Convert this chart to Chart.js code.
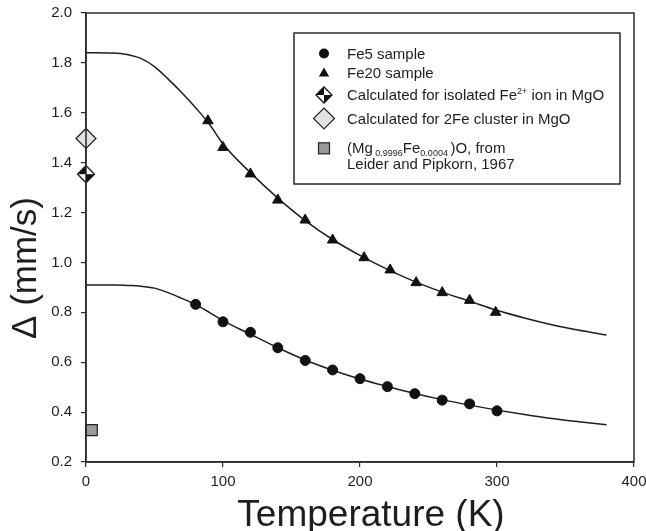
<!DOCTYPE html>
<html>
<head>
<meta charset="utf-8">
<script src="https://cdn.jsdelivr.net/npm/chart.js@4.4.1/dist/chart.umd.min.js"></script>
<style>
  body { margin: 0; background: #fff; }
  #wrap { width: 646px; height: 531px; }
</style>
</head>
<body>
<div id="wrap"><canvas id="chart" width="646" height="531"></canvas></div>
<script>
// quadrupole splitting vs temperature
const xTicks = [0, 100, 200, 300, 400];
const yTicks = [0.2, 0.4, 0.6, 0.8, 1.0, 1.2, 1.4, 1.6, 1.8, 2.0];

// fitted curves
const fitT = [0, 20, 30, 40, 50, 60, 70, 80, 90, 100, 120, 140, 160, 180, 200, 220, 240, 260, 280, 300, 320, 340, 360, 380];
const fe5Fit = [0.910, 0.910, 0.908, 0.905, 0.897, 0.879, 0.856, 0.831, 0.800, 0.767, 0.712, 0.658, 0.609, 0.568, 0.533, 0.503, 0.475, 0.450, 0.428, 0.408, 0.390, 0.374, 0.361, 0.349];
const fe20Fit = [1.841, 1.840, 1.834, 1.818, 1.785, 1.735, 1.680, 1.620, 1.555, 1.475, 1.360, 1.258, 1.168, 1.092, 1.028, 0.972, 0.923, 0.881, 0.845, 0.808, 0.777, 0.750, 0.728, 0.709];

// measured points
const fe5T = [80, 100, 120, 140, 160, 180, 200, 220, 240, 260, 280, 300];
const fe5D = [0.832, 0.762, 0.720, 0.658, 0.607, 0.569, 0.534, 0.502, 0.474, 0.448, 0.433, 0.405];
const fe20T = [89, 100, 120, 140, 160, 180, 203, 222, 241, 260, 280, 299];
const fe20D = [1.568, 1.461, 1.355, 1.250, 1.170, 1.090, 1.019, 0.970, 0.919, 0.879, 0.848, 0.800];

// single reference values
const isolatedT = [0];
const isolatedD = [1.354];
const clusterT = [0];
const clusterD = [1.497];
const leiderT = [4.2];
const leiderD = [0.328];

const FONT = '"Liberation Sans", Arial, sans-serif';
const INK = '#1e1e1e';

function pts(xs, ys) {
  return xs.map((x, i) => ({ x: x, y: ys[i] }));
}

// diamond split into quarters, top-left and bottom-right filled
function quarterDiamond(r) {
  const c = document.createElement('canvas');
  const s = Math.ceil(r * 2 + 3);
  c.width = s; c.height = s;
  const g = c.getContext('2d');
  paintQuarterDiamond(g, s / 2, s / 2, r);
  return c;
}

function paintQuarterDiamond(g, x, y, r) {
  g.fillStyle = '#fff';
  g.beginPath();
  g.moveTo(x, y - r); g.lineTo(x + r, y); g.lineTo(x, y + r); g.lineTo(x - r, y);
  g.closePath();
  g.fill();
  g.fillStyle = '#111';
  g.beginPath();
  g.moveTo(x, y); g.lineTo(x - r, y); g.lineTo(x, y - r); g.closePath();
  g.fill();
  g.beginPath();
  g.moveTo(x, y); g.lineTo(x + r, y); g.lineTo(x, y + r); g.closePath();
  g.fill();
  g.strokeStyle = '#111';
  g.lineWidth = 1.3;
  g.beginPath();
  g.moveTo(x, y - r); g.lineTo(x + r, y); g.lineTo(x, y + r); g.lineTo(x - r, y);
  g.closePath();
  g.stroke();
}

const isoStyle = quarterDiamond(8.5);

// frame, axis titles and the legend box
const decor = {
  id: 'decor',
  afterDraw(chart) {
    const ctx = chart.ctx;
    const a = chart.chartArea;
    ctx.save();
    ctx.strokeStyle = '#2a2a2a';
    ctx.lineWidth = 1.5;
    ctx.strokeRect(a.left, a.top, a.right - a.left, a.bottom - a.top);

    ctx.fillStyle = INK;
    ctx.font = '37px ' + FONT;
    ctx.textAlign = 'center';
    ctx.textBaseline = 'alphabetic';
    ctx.fillText('Temperature (K)', 371, 526);

    ctx.save();
    ctx.translate(36, 268);
    ctx.rotate(-Math.PI / 2);
    ctx.font = '35px ' + FONT;
    ctx.fillText('\u0394 (mm/s)', 0, 0);
    ctx.restore();

    drawLegend(ctx);
    ctx.restore();
  }
};

function drawRuns(ctx, x, y, runs) {
  ctx.textAlign = 'left';
  ctx.textBaseline = 'alphabetic';
  runs.forEach(r => {
    ctx.font = (r.size || 15) + 'px ' + FONT;
    ctx.fillText(r.t, x, y + (r.dy || 0));
    x += ctx.measureText(r.t).width;
  });
}

function drawLegend(ctx) {
  ctx.fillStyle = '#fff';
  ctx.fillRect(294, 33, 326, 151);
  ctx.strokeStyle = '#2a2a2a';
  ctx.lineWidth = 1.5;
  ctx.strokeRect(294, 33, 326, 151);

  const sx = 324;
  const tx = 347;

  // circle
  ctx.fillStyle = '#111';
  ctx.beginPath();
  ctx.arc(sx, 53.5, 5, 0, Math.PI * 2);
  ctx.fill();

  // triangle
  ctx.beginPath();
  ctx.moveTo(sx, 67.5); ctx.lineTo(sx + 5.2, 76.5); ctx.lineTo(sx - 5.2, 76.5);
  ctx.closePath();
  ctx.fill();

  paintQuarterDiamond(ctx, sx, 95, 8);

  // open grey diamond
  ctx.fillStyle = '#e2e2e2';
  ctx.strokeStyle = '#222';
  ctx.lineWidth = 1.2;
  ctx.beginPath();
  ctx.moveTo(sx, 108); ctx.lineTo(sx + 10.5, 118.5); ctx.lineTo(sx, 129); ctx.lineTo(sx - 10.5, 118.5);
  ctx.closePath();
  ctx.fill();
  ctx.stroke();

  // grey square
  ctx.fillStyle = '#9a9a9a';
  ctx.fillRect(sx - 5.5, 142.8, 11, 11);
  ctx.strokeRect(sx - 5.5, 142.8, 11, 11);

  ctx.fillStyle = INK;
  drawRuns(ctx, tx, 58.8, [{ t: 'Fe5 sample' }]);
  drawRuns(ctx, tx, 78, [{ t: 'Fe20 sample' }]);
  drawRuns(ctx, tx, 100.4, [
    { t: 'Calculated for isolated Fe' },
    { t: '2+', size: 9, dy: -6 },
    { t: ' ion in MgO' }
  ]);
  drawRuns(ctx, tx, 124, [{ t: 'Calculated for 2Fe cluster in MgO' }]);
  drawRuns(ctx, tx, 152.5, [
    { t: '(Mg' },
    { t: ' 0.9996', size: 9, dy: 3.5 },
    { t: 'Fe' },
    { t: '0.0004 ', size: 9, dy: 3.5 },
    { t: ')O, from' }
  ]);
  drawRuns(ctx, tx, 169.3, [{ t: 'Leider and Pipkorn, 1967' }]);
}

const ctx = document.getElementById('chart').getContext('2d');
const chart = new Chart(ctx, {
  type: 'scatter',
  data: {
    datasets: [
      {
        label: 'Fe5 sample',
        data: pts(fe5T, fe5D),
        pointStyle: 'circle',
        pointRadius: 5,
        backgroundColor: '#111',
        borderColor: '#111',
        borderWidth: 1,
        clip: false,
        order: 0
      },
      {
        label: 'Fe20 sample',
        data: pts(fe20T, fe20D),
        pointStyle: 'triangle',
        pointRadius: 6,
        backgroundColor: '#111',
        borderColor: '#111',
        borderWidth: 1,
        clip: false,
        order: 0
      },
      {
        label: 'Calculated for isolated Fe2+ ion in MgO',
        data: pts(isolatedT, isolatedD),
        pointStyle: isoStyle,
        clip: false,
        order: 0
      },
      {
        label: 'Calculated for 2Fe cluster in MgO',
        data: pts(clusterT, clusterD),
        pointStyle: 'rectRot',
        pointRadius: 10,
        backgroundColor: '#e2e2e2',
        borderColor: '#222',
        borderWidth: 1.2,
        clip: false,
        order: 0
      },
      {
        label: '(Mg0.9996Fe0.0004)O, from Leider and Pipkorn, 1967',
        data: pts(leiderT, leiderD),
        pointStyle: 'rect',
        pointRadius: 7.8,
        backgroundColor: '#9a9a9a',
        borderColor: '#222',
        borderWidth: 1.2,
        clip: false,
        order: 0
      },
      {
        label: 'Fe5 fit',
        type: 'line',
        data: pts(fitT, fe5Fit),
        showLine: true,
        pointRadius: 0,
        borderColor: INK,
        borderWidth: 1.5,
        cubicInterpolationMode: 'monotone',
        fill: false,
        order: 1
      },
      {
        label: 'Fe20 fit',
        type: 'line',
        data: pts(fitT, fe20Fit),
        showLine: true,
        pointRadius: 0,
        borderColor: INK,
        borderWidth: 1.5,
        cubicInterpolationMode: 'monotone',
        fill: false,
        order: 1
      }
    ]
  },
  options: {
    responsive: false,
    animation: false,
    devicePixelRatio: 1,
    layout: { padding: { top: 13, right: 12, left: 0, bottom: 0 } },
    plugins: {
      legend: { display: false },
      tooltip: { enabled: false }
    },
    scales: {
      x: {
        type: 'linear',
        min: 0,
        max: 400,
        afterBuildTicks: s => { s.ticks = xTicks.map(v => ({ value: v })); },
        afterFit: s => { s.height = 69; s.paddingLeft = 0; s.paddingRight = 0; },
        border: { display: true, color: '#2a2a2a', width: 1.5 },
        grid: { drawOnChartArea: false, drawTicks: true, tickLength: 5, color: '#2a2a2a', lineWidth: 1.2 },
        ticks: {
          padding: 6,
          color: INK,
          font: { family: FONT, size: 15 },
          maxRotation: 0
        }
      },
      y: {
        type: 'linear',
        min: 0.2,
        max: 2.0,
        afterBuildTicks: s => { s.ticks = yTicks.map(v => ({ value: v })); },
        afterFit: s => { s.width = 86; s.paddingTop = 0; s.paddingBottom = 0; },
        border: { display: true, color: '#2a2a2a', width: 1.5 },
        grid: { drawOnChartArea: false, drawTicks: true, tickLength: 5, color: '#2a2a2a', lineWidth: 1.2 },
        ticks: {
          padding: 9,
          color: INK,
          font: { family: FONT, size: 15 },
          callback: v => v.toFixed(1)
        }
      }
    }
  },
  plugins: [decor]
});
</script>
</body>
</html>
